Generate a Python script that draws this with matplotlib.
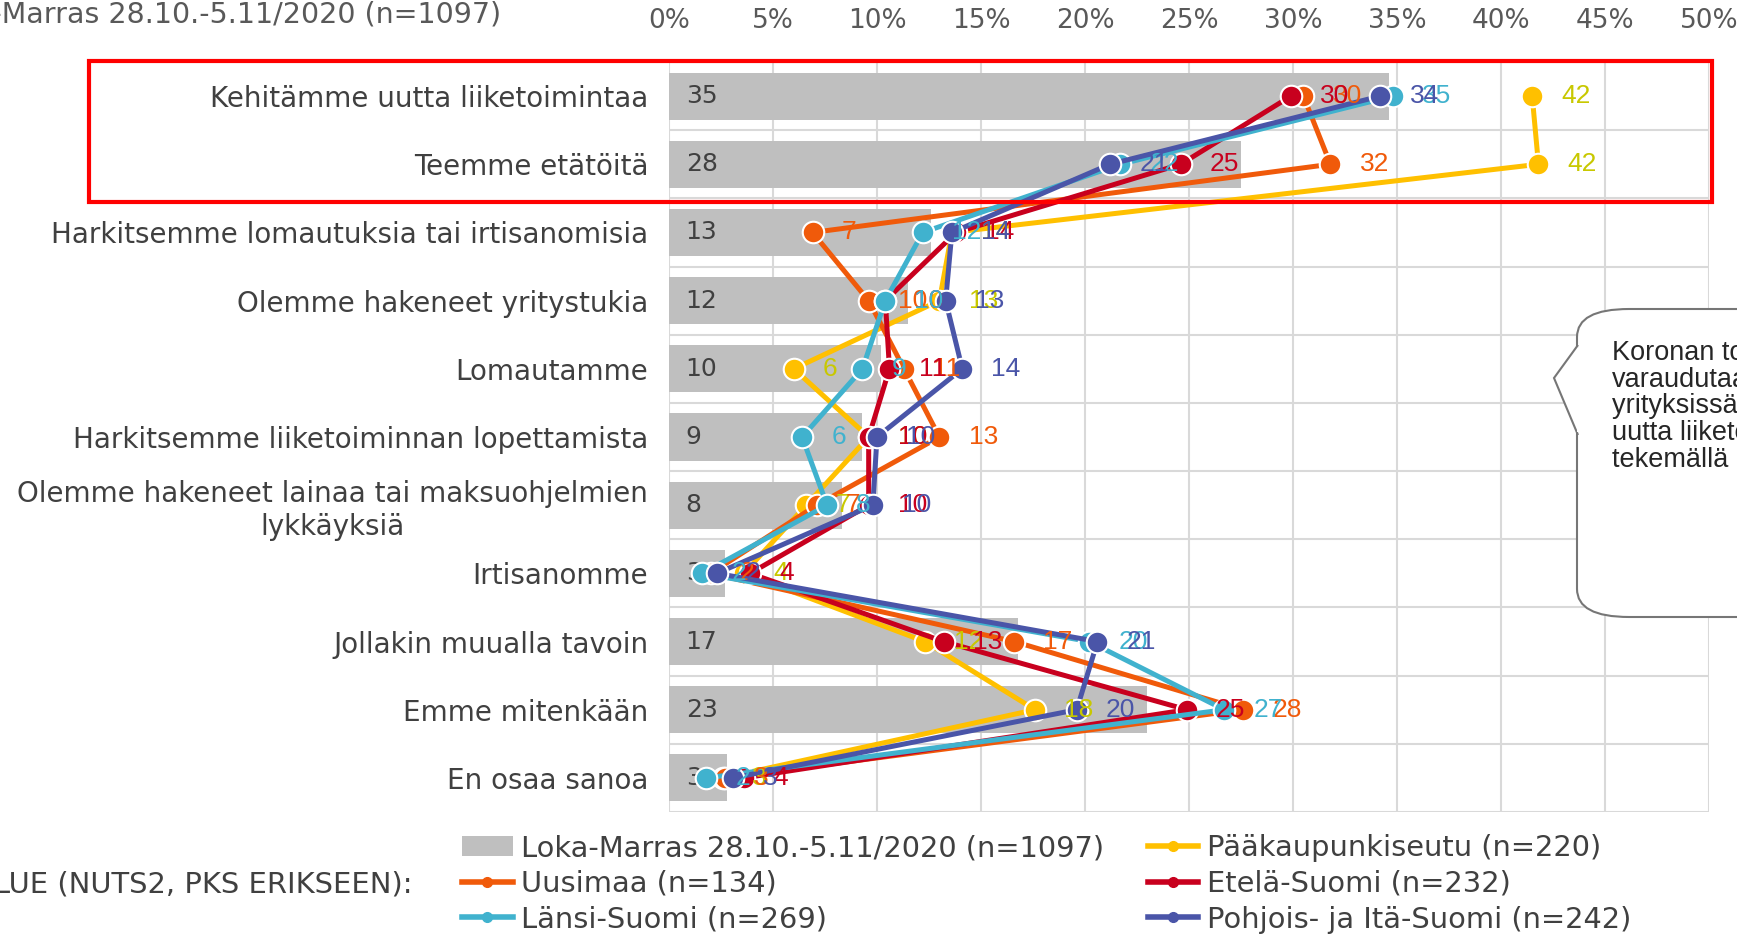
import numpy as np
import matplotlib
matplotlib.use('Agg')
import matplotlib.pyplot as plt
from matplotlib.lines import Line2D
from matplotlib.patches import Patch, FancyBboxPatch, Polygon, Rectangle

# data (% of companies)
cats = ['Kehitämme uutta liiketoimintaa', 'Teemme etätöitä',
        'Harkitsemme lomautuksia tai irtisanomisia', 'Olemme hakeneet yritystukia',
        'Lomautamme', 'Harkitsemme liiketoiminnan lopettamista',
        'Olemme hakeneet lainaa tai maksuohjelmien\nlykkäyksiä', 'Irtisanomme',
        'Jollakin muualla tavoin', 'Emme mitenkään', 'En osaa sanoa']
total = [34.6, 27.5, 12.6, 11.5, 10.2, 9.3, 8.3, 2.7, 16.8, 23.0, 2.8]
pks = [41.5, 41.8, 13.6, 13.0, 6.0, 9.6, 6.6, 3.6, 12.3, 17.6, 2.6]
uusimaa = [30.5, 31.8, 6.9, 9.6, 11.3, 13.0, 7.1, 2.0, 16.6, 27.6, 2.7]
etela = [29.9, 24.6, 13.8, 10.4, 10.6, 9.6, 9.6, 3.9, 13.2, 24.9, 3.6]
lansi = [34.8, 21.7, 12.2, 10.4, 9.3, 6.4, 7.6, 1.6, 20.2, 26.7, 1.8]
pohjois = [34.2, 21.2, 13.6, 13.3, 14.1, 10.0, 9.8, 2.3, 20.6, 19.6, 3.1]
total_name = 'Loka-Marras 28.10.-5.11/2020 (n=1097)'
names = ['Pääkaupunkiseutu (n=220)', 'Uusimaa (n=134)', 'Etelä-Suomi (n=232)',
         'Länsi-Suomi (n=269)', 'Pohjois- ja Itä-Suomi (n=242)']
xticks = [0, 5, 10, 15, 20, 25, 30, 35, 40, 45, 50]

series = list(zip(names, [pks, uusimaa, etela, lansi, pohjois],
                  ['#FFC000', '#F05A0A', '#C8001E', '#40B2CE', '#4A55A8'],
                  ['#C8C800', '#F05A0A', '#C8001E', '#40B2CE', '#4A55A8']))

W, H = 1737, 936
fx = lambda p: p / W
fy = lambda p: 1 - p / H
plt.rcParams['font.family'] = ['DejaVu Sans']
fig = plt.figure(figsize=(W / 100, H / 100), dpi=100)
ax = fig.add_axes([fx(669), fy(812), 1040 / W, 750 / H])

y = np.arange(len(cats))
ax.barh(y, total, height=0.69, color='#BFBFBF', zorder=2)
for yi, v in zip(y, total):
    ax.text(0.8, yi, f'{v:.0f}', va='center', ha='left', fontsize=18, color='#404040', zorder=3)

for name, vals, c, lc in series:
    ax.plot(vals, y, color=c, lw=3.6, marker='o', ms=15.5, mec='white', mew=1.5, zorder=4)
for name, vals, c, lc in series:
    for v, yi in zip(vals, y):
        ax.annotate(f'{v:.0f}', (v, yi), xytext=(21, 0), textcoords='offset points',
                    va='center', ha='left', fontsize=19, color=lc,
                    family='Liberation Sans', zorder=5)

ax.set_xlim(0, 50)
ax.set_ylim(len(cats) - 0.5, -0.5)
ax.xaxis.tick_top()
ax.set_xticks(xticks)
ax.set_xticklabels([f'{t}%' for t in xticks])
ax.set_yticks(y)
ax.set_yticklabels(cats, multialignment='center')
ax.tick_params(axis='x', length=0, pad=20, labelsize=19, labelcolor='#595959')
ax.tick_params(axis='y', length=0, pad=15, labelsize=20, labelcolor='#404040')
for s in ax.spines.values():
    s.set_visible(False)
ax.grid(axis='x', color='#D9D9D9', lw=1.5, zorder=1)
ax.hlines(np.arange(-0.5, len(cats)), 0, 50, color='#D9D9D9', lw=1.5, zorder=1)

# red highlight box around the first two rows
fig.patches.append(Rectangle((fx(89), fy(202)), (1712 - 89) / W, (202 - 61) / H,
                             transform=fig.transFigure, fill=False, ec='#FF0000', lw=3, zorder=10))

# texts cut off by the figure edges
fig.text(fx(501), fy(15), total_name, ha='right', va='center', fontsize=20.5, color='#595959')
fig.text(fx(412), fy(885), 'ALUE (NUTS2, PKS ERIKSEEN):', ha='right', va='center',
         fontsize=20.9, color='#404040')

# speech bubble on the right
fig.patches.append(FancyBboxPatch((fx(1577), fy(617)), (1800 - 1577) / W, (617 - 309) / H,
                                  boxstyle='round,pad=0,rounding_size=0.03',
                                  transform=fig.transFigure, fc='white', ec='#767676', lw=1.5))
fig.patches.append(Polygon([(fx(1578), fy(345)), (fx(1554), fy(378)), (fx(1578), fy(435))],
                           closed=False, transform=fig.transFigure, fc='white', ec='#767676', lw=1.5))
fig.patches.append(Rectangle((fx(1577), fy(432)), 4 / W, 84 / H, transform=fig.transFigure,
                             fc='white', ec='none'))
bubble = ['Koronan toiseen aaltoon', 'varaudutaan', 'yrityksissä kehittämällä',
          'uutta liiketoimintaa ja', 'tekemällä etätöitä.']
for i, line in enumerate(bubble):
    fig.text(fx(1612), fy(353 + i * 26.7), line, ha='left', va='center', fontsize=19.5,
             color='#262626', family='Liberation Sans')

handles = [Patch(fc='#BFBFBF', ec='none')]
handles += [Line2D([], [], color=c, lw=4, marker='o', ms=7) for _, _, c, _ in series]
labels = [total_name] + names
order = [0, 2, 4, 1, 3, 5]
fig.legend([handles[i] for i in order], [labels[i] for i in order], ncol=2, loc='upper left',
           bbox_to_anchor=(fx(462), fy(834)), frameon=False, fontsize=20.8, handlelength=1.75,
           handletextpad=0.3, columnspacing=1.5, labelspacing=0.27, borderpad=0,
           borderaxespad=0, labelcolor='#404040')

fig.savefig('out.png', dpi=100)
